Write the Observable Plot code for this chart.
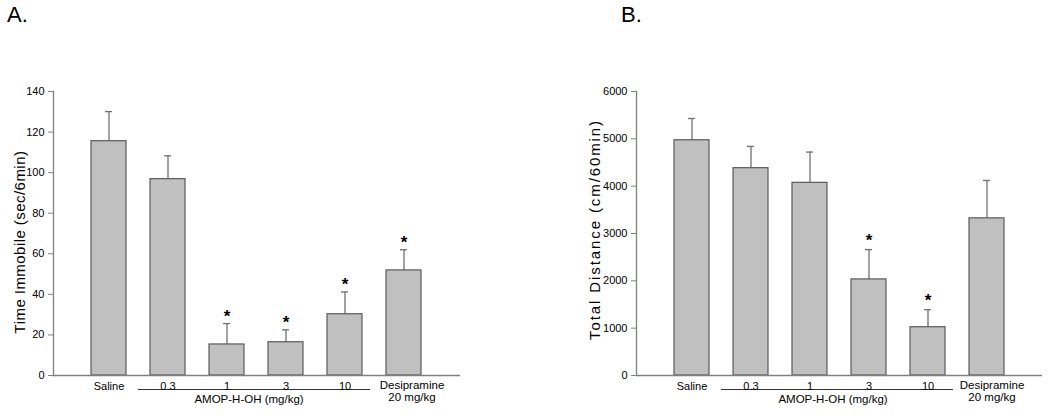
<!DOCTYPE html>
<html>
<head>
<meta charset="utf-8">
<script src="https://cdn.jsdelivr.net/npm/d3@7"></script>
<script src="https://cdn.jsdelivr.net/npm/@observablehq/plot@0.6"></script>
<style>
  html, body { margin: 0; padding: 0; background: #fff; }
  #wrap { position: relative; width: 1050px; height: 416px; overflow: hidden; font-family: "Liberation Sans", Arial, sans-serif; }
  .panel { position: absolute; top: 0; }
  .tag { position: absolute; top: 4px; font-size: 22px; line-height: 22px; color: #000; }
</style>
</head>
<body>
<div id="wrap">
  <div class="tag" style="left:7px">A.</div>
  <div class="tag" style="left:621px">B.</div>
  <div id="pa" class="panel" style="left:0px"></div>
  <div id="pb" class="panel" style="left:525px"></div>
</div>
<script>
// ---- data ----
const categories = ["Saline", "0.3", "1", "3", "10", "Desipramine"];
const tickLabels = ["Saline", "0.3", "1", "3", "10", "Desipramine\n20 mg/kg"];
const groupLabel = "AMOP-H-OH (mg/kg)";

const immobileMean = [115.5, 96.8, 15.3, 16.4, 30.2, 51.8];
const immobileSem  = [14.6, 11.5, 10.3, 6.1, 11.0, 10.2];
const immobileSig  = [false, false, true, true, true, true];
const immobileTicks = [0, 20, 40, 60, 80, 100, 120, 140];
const immobileTitle = "Time Immobile (sec/6min)";

const distanceMean = [4970, 4380, 4070, 2030, 1020, 3320];
const distanceSem  = [460, 460, 650, 630, 370, 800];
const distanceSig  = [false, false, false, true, true, false];
const distanceTicks = [0, 1000, 2000, 3000, 4000, 5000, 6000];
const distanceTitle = "Total Distance (cm/60min)";

const FONT = '"Liberation Sans", Arial, sans-serif';

function panel({means, sems, sigs, ticks, title, marginLeft, marginRight, titleDx, titleDy, titleSpacing, starDy, groupDx, desiDx}) {
  const rows = categories.map((c, i) => ({cat: c, v: means[i], e: sems[i], sig: sigs[i], label: tickLabels[i]}));
  const plain = rows.filter(d => d.cat !== "Desipramine");
  const desi = rows.filter(d => d.cat === "Desipramine");
  const svg = Plot.plot({
    width: 525,
    height: 416,
    marginTop: 91,
    marginBottom: 41,
    marginLeft,
    marginRight,
    style: {fontFamily: FONT, fontSize: "11px", color: "#000", background: "transparent"},
    x: {type: "band", domain: categories, paddingInner: 0.4, paddingOuter: 0.6, axis: null},
    y: {domain: [ticks[0], ticks[ticks.length - 1]], ticks, axis: null},
    marks: [
      Plot.axisY({ticks, tickFormat: d => String(d), tickSize: 5, tickPadding: 4, stroke: "#808080", fill: "#000", fontSize: 11, label: null}),
      Plot.ruleX(rows, {x: "cat", y1: "v", y2: d => d.v + d.e, stroke: "#707070", strokeWidth: 1.3}),
      Plot.tickY(rows, {x: "cat", y: d => d.v + d.e, insetLeft: 14, insetRight: 14, stroke: "#707070", strokeWidth: 1.3}),
      Plot.barY(rows, {x: "cat", y: "v", fill: "#c0c0c0", stroke: "#5a5a5a", strokeWidth: 1.2}),
      Plot.text(rows.filter(d => d.sig), {x: "cat", y: d => d.v + d.e, text: () => "*", dy: starDy, fontSize: 17, fontWeight: "bold", fill: "#000", lineAnchor: "middle"}),
      Plot.frame({anchor: "left", stroke: "#808080", strokeWidth: 1.3}),
      Plot.ruleY([0], {stroke: "#808080", strokeWidth: 1.5}),
      Plot.text(plain, {x: "cat", frameAnchor: "bottom", text: "label", dy: 14, lineAnchor: "bottom", fontSize: 11, fill: "#000"}),
      Plot.text(desi, {x: "cat", frameAnchor: "bottom", text: "label", dy: 5, dx: desiDx, lineAnchor: "top", lineHeight: 1.05, fontSize: 11.5, fill: "#000"}),
      Plot.ruleY([{a: "0.3", b: "10"}], {y: () => 0, x1: "a", x2: "b", insetLeft: -12, insetRight: -8, dy: 14, stroke: "#000", strokeWidth: 0.8}),
      Plot.text([{c: "1", t: groupLabel}], {x: "c", frameAnchor: "bottom", text: "t", dx: groupDx, dy: 27, lineAnchor: "bottom", fontSize: 11.5, fill: "#000"}),
      Plot.text([title], {frameAnchor: "left", text: d => d, rotate: -90, dx: titleDx, dy: titleDy, textAnchor: "middle", lineAnchor: "middle", fontSize: 15, fill: "#000"})
    ]
  });
  d3.select(svg).selectAll("text").filter(function () { return this.textContent === title; })
    .style("letter-spacing", titleSpacing + "px");
  return svg;
}

document.getElementById("pa").appendChild(panel({
  means: immobileMean, sems: immobileSem, sigs: immobileSig, ticks: immobileTicks, title: immobileTitle,
  marginLeft: 53, marginRight: 65, titleDx: -33, titleDy: 8.5, titleSpacing: 0.45, starDy: -7, groupDx: 22, desiDx: 8
}));
document.getElementById("pb").appendChild(panel({
  means: distanceMean, sems: distanceSem, sigs: distanceSig, ticks: distanceTicks, title: distanceTitle,
  marginLeft: 111, marginRight: 8, titleDx: -41, titleDy: -4, titleSpacing: 1.9, starDy: -9.5, groupDx: 23, desiDx: 5
}));
</script>
</body>
</html>
